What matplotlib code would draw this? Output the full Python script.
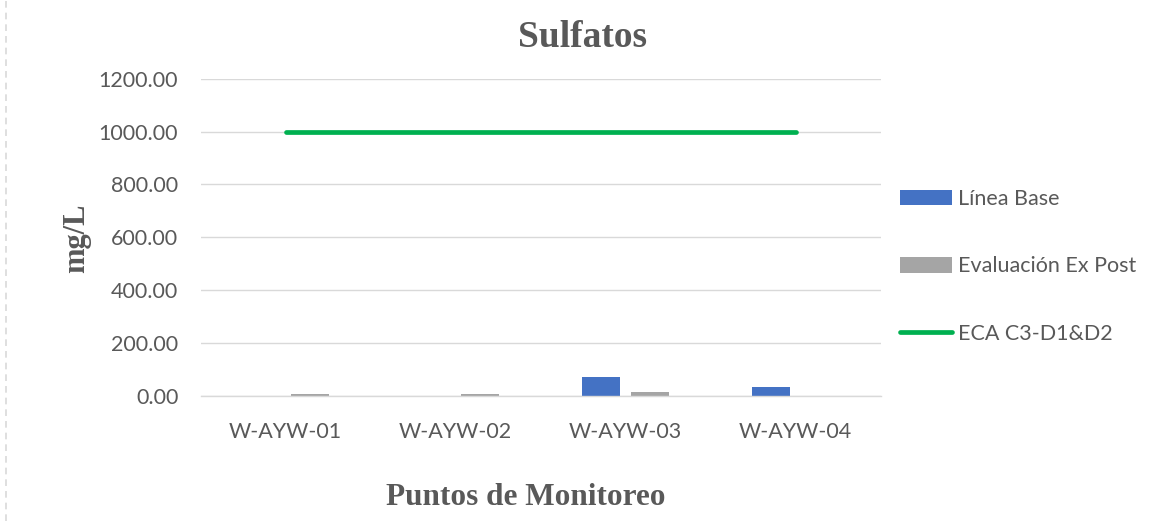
import numpy as np
import matplotlib
matplotlib.use("Agg")
import matplotlib.pyplot as plt
from matplotlib.lines import Line2D

puntos = ["W-AYW-01", "W-AYW-02", "W-AYW-03", "W-AYW-04"]
linea_base = [0, 0, 70, 34]
ex_post = [7, 7, 14, 0]
eca = [1000, 1000, 1000, 1000]
y_ticks = [0, 200, 400, 600, 800, 1000, 1200]

txt = "#595959"
grid = "#d9d9d9"

fig = plt.figure(figsize=(11.55, 5.21), dpi=100)
ax = fig.add_axes([200.5 / 1155, 1 - 395.5 / 521, 680 / 1155, (395.5 - 79) / 521])

x = np.arange(len(puntos))
w = 0.224
off = 0.144
b1 = ax.bar(x - off, linea_base, w, color="#4472C4", label="Línea Base")
b2 = ax.bar(x + off, ex_post, w, color="#A5A5A5", label="Evaluación Ex Post")
l1, = ax.plot(x, eca, color="#00B050", lw=3.4, solid_capstyle="round", label="ECA C3-D1&D2")

ax.set_xlim(-0.5, 3.5)
ax.set_ylim(0, 1200)
ax.set_yticks(y_ticks)
ax.set_yticklabels([f"{v:.2f}" for v in y_ticks])
ax.set_xticks(x)
ax.set_xticklabels(puntos)
ax.yaxis.grid(True, color=grid, lw=1.0)
ax.set_axisbelow(True)
for s in ["top", "right", "left"]:
    ax.spines[s].set_visible(False)
ax.spines["bottom"].set_color(grid)
ax.spines["bottom"].set_linewidth(1.0)
ax.tick_params(axis="both", length=0, labelsize=15.5, labelcolor=txt)
ax.tick_params(axis="y", pad=16)
ax.tick_params(axis="x", pad=19)
for lab in ax.get_xticklabels() + ax.get_yticklabels():
    lab.set_family("Lato")

fig.text(583 / 1155, 1 - 46.7 / 521, "Sulfatos", ha="center", va="baseline",
         family="Liberation Serif", weight="bold", size=27, color=txt)
fig.text(526 / 1155, 1 - 505 / 521, "Puntos de Monitoreo", ha="center", va="baseline",
         family="Liberation Serif", weight="bold", size=22.5, color=txt)
fig.text(77 / 1155, 1 - 238 / 521, "mg/L", ha="center", va="center", rotation=90,
         family="Liberation Serif", weight="bold", size=22, color=txt)

fig.legend(handles=[b1, b2, l1], loc="center left", bbox_to_anchor=(900 / 1155, 1 - 266.5 / 521),
           frameon=False, borderpad=0, borderaxespad=0, handlelength=2.42,
           handletextpad=0.28, labelspacing=2.2,
           prop={"family": "Lato", "size": 15.5}, labelcolor=txt)

# dashed page border on the left
fig.add_artist(Line2D([6 / 1155, 6 / 1155], [0, 1], color=grid, lw=1.2,
                      ls=(0, (4, 3)), transform=fig.transFigure))

fig.savefig("out.png", dpi=100)
